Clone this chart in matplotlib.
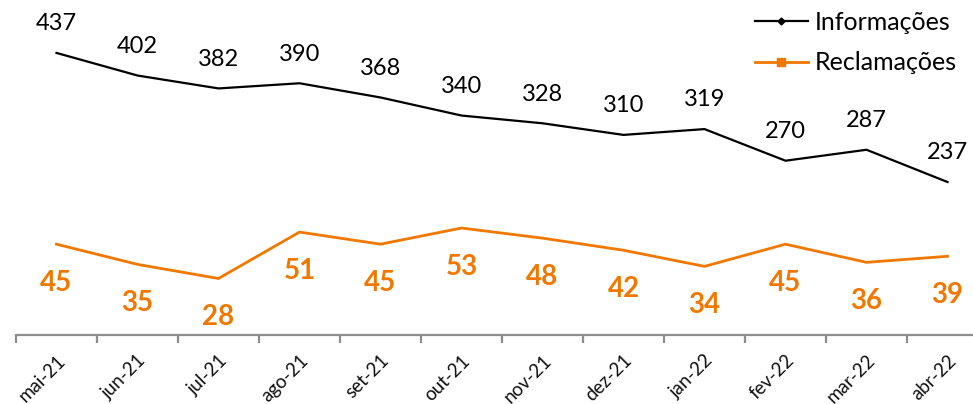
import matplotlib
matplotlib.use("Agg")
import matplotlib.pyplot as plt
from matplotlib.lines import Line2D

months = ["mai-21", "jun-21", "jul-21", "ago-21", "set-21", "out-21",
          "nov-21", "dez-21", "jan-22", "fev-22", "mar-22", "abr-22"]
informacoes = [437, 402, 382, 390, 368, 340, 328, 310, 319, 270, 287, 237]
reclamacoes = [45, 35, 28, 51, 45, 53, 48, 42, 34, 45, 36, 39]

BLACK = "#000000"
ORANGE = "#F07800"
GREY = "#8C8C8C"
FONT = "Lato"

W, H = 973, 404
fig = plt.figure(figsize=(W / 100, H / 100), dpi=100)
ax_bottom_px = 335
ax = fig.add_axes([16 / W, (H - ax_bottom_px) / H, 972 / W, ax_bottom_px / H])
ax2 = ax.twinx()

x = list(range(len(months)))
ax.plot(x, informacoes, color=BLACK, lw=1.6, solid_joinstyle="round")
ax2.plot(x, reclamacoes, color=ORANGE, lw=2.0, solid_joinstyle="round")

ax.set_xlim(-0.5, len(months) - 0.5)
ax.set_ylim(0, 519)
ax2.set_ylim(0, 166)

for a in (ax, ax2):
    for s in a.spines.values():
        s.set_visible(False)
    a.set_yticks([])
ax.spines["bottom"].set_visible(True)
ax.spines["bottom"].set_color(GREY)
ax.spines["bottom"].set_linewidth(1.6)

ax.set_xticks(x)
ax.set_xticklabels(months, rotation=45, ha="right", rotation_mode="anchor",
                   fontsize=13.5, family=FONT, color="#111111")
ax.tick_params(axis="x", which="major", length=0, pad=12)
ax.set_xticks([i - 0.5 for i in range(len(months) + 1)], minor=True)
ax.tick_params(axis="x", which="minor", length=6, width=1.6, color=GREY)

for xi, v in zip(x, informacoes):
    ax.annotate(str(v), (xi, v), xytext=(0, 21), textcoords="offset points",
                ha="center", va="center", fontsize=17, family=FONT, color=BLACK)
for xi, v in zip(x, reclamacoes):
    ax2.annotate(str(v), (xi, v), xytext=(0, -28), textcoords="offset points",
                 ha="center", va="center", fontsize=20, family=FONT,
                 fontweight="bold", color=ORANGE)

handles = [
    Line2D([], [], color=BLACK, lw=1.6, marker="D", markersize=3.5),
    Line2D([], [], color=ORANGE, lw=2.0, marker="s", markersize=6),
]
fig.legend(handles, ["Informações", "Reclamações"], loc="upper left",
           bbox_to_anchor=(755 / W, 1 - 11 / H), frameon=False,
           prop={"family": FONT, "size": 18}, borderpad=0, borderaxespad=0,
           handlelength=2.1, handletextpad=0.3, labelspacing=0.7)

fig.savefig("out.png", dpi=100)
